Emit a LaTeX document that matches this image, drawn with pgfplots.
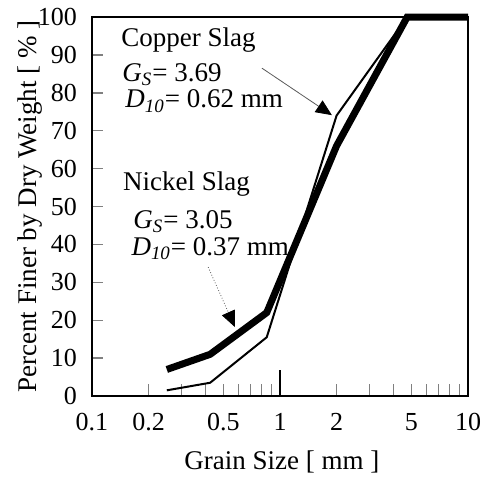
\documentclass[border=0pt]{standalone}
\usepackage{fontspec}
\setmainfont{Liberation Serif}
\usepackage{pgfplots}
\usepackage{pgfplotstable}
\pgfplotsset{compat=1.18}
\usetikzlibrary{arrows.meta}

\pgfplotstableread{
x y
0.25 1.5
0.425 3.5
0.85 15.5
2.0 74
4.75 100
10 100
}\copper

\pgfplotstableread{
x y
0.25 7
0.425 11
0.85 22
2.0 66
4.75 100
10 100
}\nickel

\begin{document}
\begin{tikzpicture}
\useasboundingbox (-46pt,-43.5pt) rectangle (199pt,198pt);
\begin{axis}[
  scale only axis, width=188pt, height=189.5pt,
  xmode=log, log basis x=10,
  xmin=0.1, xmax=10, ymin=0, ymax=100,
  clip=false,
  axis line style={line width=1.4pt},
  tick align=inside,
  xtick pos=bottom, ytick pos=left,
  xtick={0.1,0.2,0.5,1,2,5,10},
  xticklabels={0.1,0.2,0.5,1,2,5,10},
  major x tick style={draw=none},
  minor xtick={0.2,0.3,0.4,0.5,0.6,0.7,0.8,0.9,2,3,4,5,6,7,8,9},
  minor x tick style={line width=0.5pt},
  minor tick length=6pt,
  extra x ticks={1},
  extra x tick labels={},
  extra x tick style={major tick length=13pt, major x tick style={draw=black, line width=0.9pt}},
  ytick={0,10,...,100},
  major tick length=5.5pt,
  major y tick style={line width=0.7pt},
  /pgf/number format/assume math mode=true,
  ticklabel style={font=\fontsize{13}{15}\selectfont},
  xticklabel style={yshift=-5pt},
  yticklabel style={xshift=-4pt},
  xlabel={Grain Size [ mm ]},
  ylabel={Percent Finer by Dry Weight [ \% ]},
  label style={font=\fontsize{13.5}{16}\selectfont},
  x label style={at={(axis description cs:0.505,-0.174)}, anchor=center},
  y label style={at={(axis description cs:-0.165,0.5)}, anchor=center},
]
\addplot[black, line width=1pt, line join=miter] table {\copper};
\addplot[black, line width=3.5pt, line join=miter] table {\nickel};

\node[anchor=base west, inner sep=0pt, font=\fontsize{13.5}{16}\selectfont] at (rel axis cs:0.077,0.921) {Copper Slag};
\node[anchor=base west, inner sep=0pt, font=\fontsize{13.5}{16}\selectfont] at (rel axis cs:0.080,0.831) {\textit{G}\textsubscript{\textit{S}}= 3.69};
\node[anchor=base west, inner sep=0pt, font=\fontsize{13.5}{16}\selectfont] at (rel axis cs:0.088,0.760) {\textit{D}\textsubscript{\textit{10}}= 0.62 mm};
\draw[gray!70!black, line width=0.4pt, -{Triangle[length=8pt, width=7pt, color=black, fill=black]}] (rel axis cs:0.452,0.865) -- (rel axis cs:0.638,0.741);

\node[anchor=base west, inner sep=0pt, font=\fontsize{13.5}{16}\selectfont] at (rel axis cs:0.082,0.541) {Nickel Slag};
\node[anchor=base west, inner sep=0pt, font=\fontsize{13.5}{16}\selectfont] at (rel axis cs:0.109,0.443) {\textit{G}\textsubscript{\textit{S}}= 3.05};
\node[anchor=base west, inner sep=0pt, font=\fontsize{13.5}{16}\selectfont] at (rel axis cs:0.104,0.372) {\textit{D}\textsubscript{\textit{10}}= 0.37 mm};
\draw[gray!70!black, line width=0.4pt, densely dotted, -{Triangle[length=8pt, width=7pt, color=black, fill=black]}] (rel axis cs:0.309,0.340) -- (rel axis cs:0.380,0.182);
\end{axis}
\end{tikzpicture}
\end{document}
